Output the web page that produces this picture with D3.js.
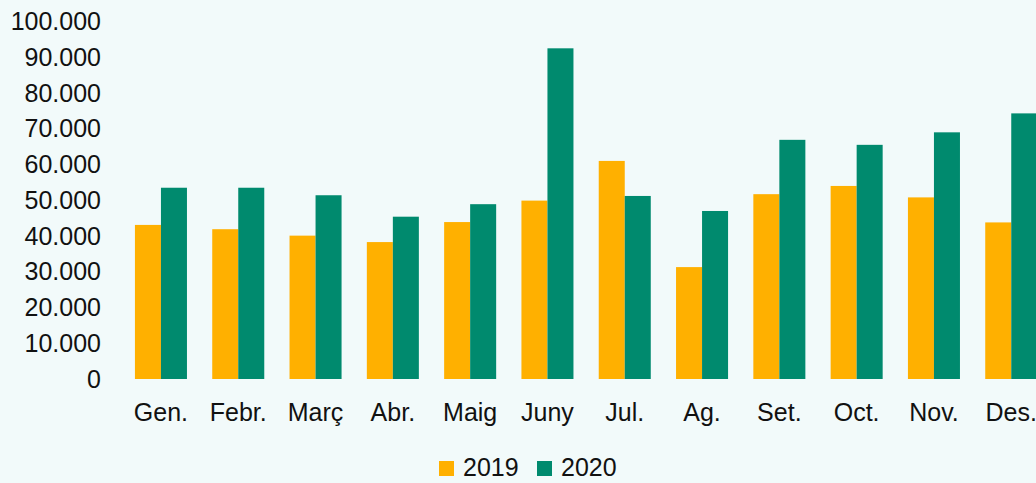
<!DOCTYPE html>
<html>
<head>
<meta charset="utf-8">
<script src="https://cdn.jsdelivr.net/npm/d3@7"></script>
<style>
  body { margin: 0; background: #f2fafa; }
  svg { display: block; font-family: "Liberation Sans", Arial, sans-serif; }
</style>
</head>
<body>
<div id="chart"></div>
<script>
const months = ["Gen.", "Febr.", "Març", "Abr.", "Maig", "Juny", "Jul.", "Ag.", "Set.", "Oct.", "Nov.", "Des."];
const values2019 = [43100, 41900, 40100, 38300, 43900, 49900, 61000, 31300, 51700, 54000, 50800, 43800];
const values2020 = [53500, 53500, 51400, 45400, 48900, 92500, 51200, 47000, 66900, 65500, 69000, 74300];
const seriesNames = ["2019", "2020"];
const yTicks = [0, 10000, 20000, 30000, 40000, 50000, 60000, 70000, 80000, 90000, 100000];

const colors = ["#ffb000", "#008a6e"];
const width = 1036, height = 483;

const svg = d3.select("#chart").append("svg")
  .attr("width", width)
  .attr("height", height);

svg.append("rect").attr("width", width).attr("height", height).attr("fill", "#f2fafa");

const x = d3.scaleBand()
  .domain(months)
  .range([122.3, 1049.9])
  .paddingInner(0.327)
  .paddingOuter(0.1635);

const xSub = d3.scaleBand()
  .domain(seriesNames)
  .range([0, x.bandwidth()]);

const y = d3.scaleLinear()
  .domain([0, 100000])
  .range([379, 21.5]);

const fmt = d => d3.format(",")(d).replace(/,/g, ".");

// y axis labels only
const yAxis = svg.append("g")
  .attr("transform", "translate(101,0)")
  .call(d3.axisLeft(y).tickValues(yTicks).tickSize(0).tickPadding(0).tickFormat(fmt));
yAxis.select(".domain").remove();
yAxis.selectAll("text")
  .attr("fill", "#111")
  .style("font-size", "25px");

// x axis labels
const xAxis = svg.append("g")
  .attr("transform", "translate(0,379)")
  .call(d3.axisBottom(x).tickSize(0).tickPadding(24));
xAxis.select(".domain").remove();
xAxis.selectAll("text")
  .attr("fill", "#111")
  .style("font-size", "25px");

const rows = months.map((m, i) => ({ month: m, vals: [values2019[i], values2020[i]] }));

const groups = svg.append("g").selectAll("g")
  .data(rows)
  .enter().append("g")
  .attr("transform", d => `translate(${x(d.month)},0)`);

groups.selectAll("rect")
  .data(d => d.vals.map((v, j) => ({ key: seriesNames[j], v, j })))
  .enter().append("rect")
  .attr("x", d => xSub(d.key))
  .attr("y", d => y(d.v))
  .attr("width", xSub.bandwidth())
  .attr("height", d => y(0) - y(d.v))
  .attr("fill", d => colors[d.j]);

// legend (kept just inside the bottom edge)
const legendX = [439, 537];
seriesNames.forEach((name, i) => {
  const row = svg.append("g").attr("transform", `translate(${legendX[i]}, 461)`);
  row.append("rect").attr("width", 15).attr("height", 15).attr("fill", colors[i]);
  row.append("text").attr("x", 24).attr("y", 15).text(name)
    .style("font-size", "25px").attr("fill", "#111");
});
</script>
</body>
</html>
